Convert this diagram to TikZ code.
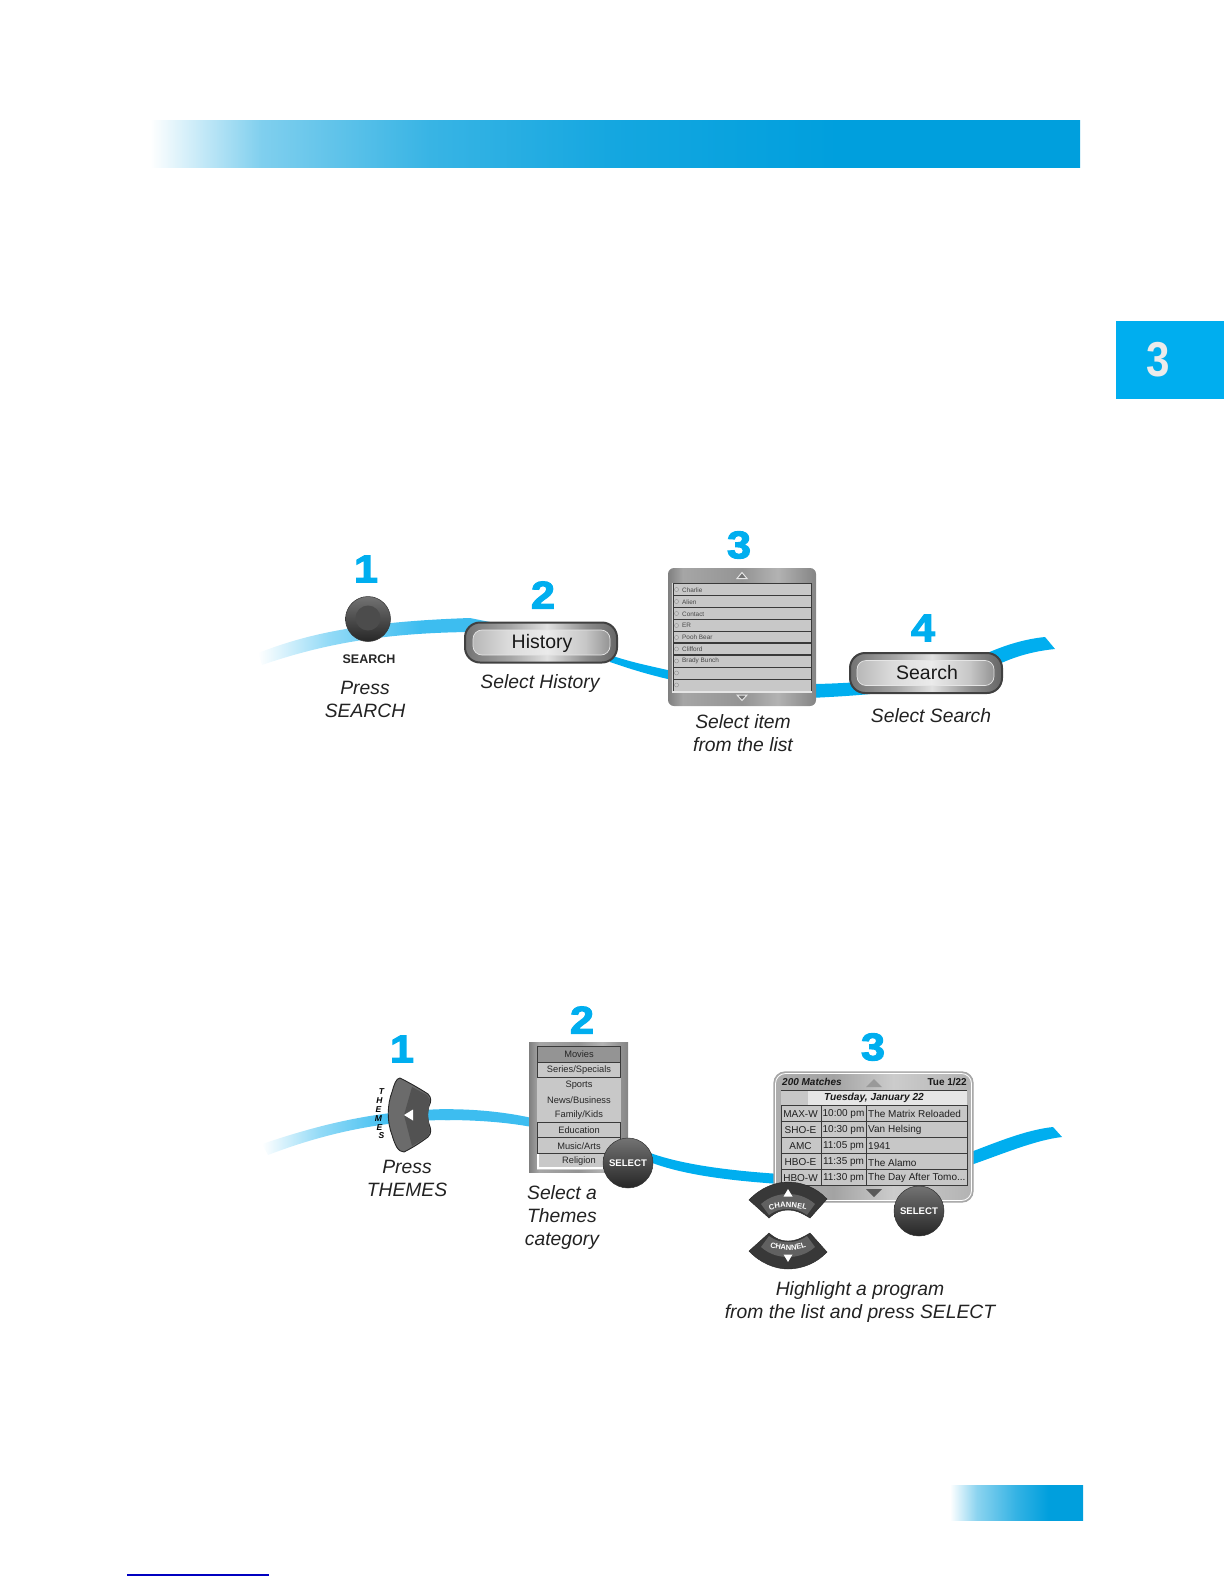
\documentclass[tikz,border=0pt]{standalone}
\usepackage{fontspec}
\setmainfont{Liberation Sans}
\newfontfamily\numfont[UprightFont=* Bold,FakeBold=3,FakeStretch=1.12]{Liberation Sans}
\usetikzlibrary{decorations.text}
\definecolor{stepblue}{HTML}{00AEEF}
\definecolor{ribbonblue}{HTML}{00AEEF}
\definecolor{ribbonmid}{HTML}{3DBDF0}
\definecolor{hdrblue}{HTML}{009FDD}
\definecolor{capk}{HTML}{222222}
\definecolor{rowgray}{HTML}{C8C8C8}
\definecolor{linegray}{HTML}{3A3A3A}
\definecolor{linkblue}{HTML}{0000C0}
\pgfdeclarehorizontalshading{hdrfade}{100bp}{color(0bp)=(white);color(25bp)=(white);color(31bp)=(hdrblue!50);color(40bp)=(hdrblue!78);color(50bp)=(hdrblue!92);color(62bp)=(hdrblue);color(100bp)=(hdrblue)}
\pgfdeclarehorizontalshading{footfade}{100bp}{color(0bp)=(white);color(25bp)=(white);color(35bp)=(hdrblue!45);color(50bp)=(hdrblue!80);color(62bp)=(hdrblue);color(100bp)=(hdrblue)}
\pgfdeclarehorizontalshading{ribfade}{100bp}{color(0bp)=(white);color(25bp)=(white);color(40bp)=(ribbonmid!55);color(60bp)=(ribbonmid);color(100bp)=(ribbonmid)}
\pgfdeclarehorizontalshading{metalring}{100bp}{color(0bp)=(black!55);color(25bp)=(black!55);color(40bp)=(black!35);color(52bp)=(black!12);color(65bp)=(black!45);color(75bp)=(black!60);color(100bp)=(black!60)}
\pgfdeclarehorizontalshading{metalface}{100bp}{color(0bp)=(black!28);color(25bp)=(black!28);color(38bp)=(black!14);color(52bp)=(black!8);color(66bp)=(black!22);color(75bp)=(black!42);color(100bp)=(black!42)}
\pgfdeclarehorizontalshading{panelmetal}{100bp}{color(0bp)=(black!50);color(25bp)=(black!50);color(30bp)=(black!35);color(50bp)=(black!42);color(62bp)=(black!30);color(75bp)=(black!48);color(100bp)=(black!48)}
\pgfdeclarehorizontalshading{panellight}{100bp}{color(0bp)=(black!32);color(25bp)=(black!32);color(40bp)=(black!36);color(55bp)=(black!20);color(75bp)=(black!30);color(100bp)=(black!30)}
\tikzset{
 caption/.style={font=\fontsize{19.3}{23}\selectfont\itshape,align=center,inner sep=0pt,text=capk},
 stepnum/.style={font=\numfont\fontsize{38.5}{39}\selectfont,text=stepblue,inner sep=0pt},
 ring/.style={rounded corners=15pt,shading=metalring,draw=black!75,line width=2pt,inner sep=0pt,minimum width=152pt,minimum height=40pt},
 face/.style={rounded corners=9pt,shading=metalface,draw=black!10,line width=.7pt,inner sep=0pt,minimum width=137pt,minimum height=25pt},
 btntext/.style={font=\fontsize{19.5}{22}\selectfont,text=black!90,inner sep=0pt},
 ball/.style={circle,top color=black!55,bottom color=black!85,draw=black!80,line width=.5pt,inner sep=0pt,font=\bfseries\fontsize{9.6}{10}\selectfont,text=white},
 listpanel/.style={rounded corners=6pt,shading=panelmetal,inner sep=0pt},
 rowbox/.style={fill=rowgray,draw=linegray,line width=.8pt},
 listtext/.style={font=\fontsize{6.4}{8}\selectfont,text=black!72,inner sep=0pt,anchor=west},
 cattext/.style={font=\fontsize{9.3}{10}\selectfont,text=black!85,inner sep=0pt},
 cell/.style={font=\fontsize{10}{11}\selectfont,text=black!88,inner sep=0pt},
 heavy/.style={font=\bfseries\fontsize{10}{11}\selectfont,text=black!90,inner sep=0pt},
 tinyletter/.style={font=\bfseries\itshape\fontsize{8.5}{9}\selectfont,text=black,inner sep=0pt},
}
\newcommand\chanfont{\bfseries\fontsize{7.6}{8}\selectfont\color{white}}
\newcommand\dayafter{The Day After Tomo...}
\begin{document}
\begin{tikzpicture}[x=1pt,y=-1pt]
\useasboundingbox (0,0) rectangle (1224,1584);
% page furniture
\shade[shading=hdrfade] (150,120.5) rectangle (1080,167);
\fill[stepblue] (1116,321) rectangle (1224,399);
\node[font=\bfseries\fontsize{49}{49}\selectfont,text=black!8,inner sep=0pt,xscale=.86] (tabnum) at (1158,360) {3};
\shade[shading=footfade] (950,1485) rectangle (1083,1520);
\draw[linkblue,line width=1.2pt] (127,1575) -- (269,1575);
% ribbons, top row
\shade[shading=ribfade] (258,653) .. controls (300,637) and (350,622) .. (470,618) -- (490,622) -- (490,634) -- (470,632) .. controls (380,633) and (320,645) .. (262,665) -- cycle;
\fill[ribbonblue] (610,655) .. controls (630,662) and (650,666) .. (672,671) -- (672,680) .. controls (650,675) and (630,669) .. (610,662) -- cycle;
\fill[ribbonblue] (810,684) .. controls (825,684) and (845,683) .. (860,682) -- (870,694) .. controls (850,696) and (830,697) .. (810,698) -- cycle;
\fill[ribbonblue] (985,654) .. controls (1005,645) and (1025,639) .. (1045,637) -- (1055,649) .. controls (1035,651) and (1015,656) .. (995,666) -- cycle;
% ribbons, bottom row
\shade[shading=ribfade] (262,1144) .. controls (310,1128) and (370,1110) .. (450,1109) -- (450,1120) .. controls (380,1120) and (320,1135) .. (268,1155) -- cycle;
\fill[ribbonmid] (445,1109.2) .. controls (475,1109) and (505,1112) .. (532,1118) -- (532,1127) .. controls (505,1122) and (475,1120) .. (445,1120) -- cycle;
\fill[ribbonblue] (645,1151) .. controls (675,1163) and (720,1170) .. (780,1174) -- (780,1184) .. controls (720,1180) and (675,1173) .. (645,1160) -- cycle;
\fill[ribbonblue] (968,1153) .. controls (995,1143) and (1025,1130) .. (1053,1127) -- (1062,1137) .. controls (1035,1140) and (1000,1155) .. (968,1166) -- cycle;
% step 1 top
\node[stepnum] (a1) at (366,569) {1};
\node[ball,minimum size=45pt] (searchbtn) at (368,619) {};
\node[circle,fill=black!70,inner sep=0pt,minimum size=25pt] (searchdimple) at (368,618) {};
\node[font=\bfseries\fontsize{12.5}{13}\selectfont,text=black!85,inner sep=0pt] (searchlbl) at (369,659) {SEARCH};
\node[caption] (cap1) at (365,699) {Press\\SEARCH};
% step 2 top
\node[stepnum] (a2) at (543,595) {2};
\node[ring] (historyring) at (541,642.5) {};
\node[face] (historyface) at (541.5,642.5) {};
\node[btntext] (history) at (542,643.5) {History};
\node[caption] (cap2) at (540,684) {Select History};
% step 3 top
\node[stepnum] (a3) at (739,545) {3};
\node[listpanel,minimum width=148pt,minimum height=138pt] (listpanel) at (742,637) {};
\fill[white!85!black] (672,583) rectangle (812,692.5);
\foreach \r [count=\i from 0] in {583.5,595.5,607.5,619.5,631.5,643,655,667,679}{
  \draw[rowbox] (673,\r) rectangle (811,\r+12);
  \draw[black!45,line width=.4pt,fill=white!80!black] (676.5,\r+6) circle (2pt);
}
\draw[linegray,line width=1.8pt] (673,643) -- (811,643);
\draw[linegray,line width=1.8pt] (673,655) -- (811,655);
\draw[linegray,line width=1.8pt] (680,583.5) -- (805,583.5);
\fill[white!90!black] (672,691) rectangle (812,692.5);
\node[listtext] (l1) at (682,590) {Charlie};
\node[listtext] (l2) at (682,602) {Alien};
\node[listtext] (l3) at (682,614) {Contact};
\node[listtext] (l4) at (682,625.5) {ER};
\node[listtext] (l5) at (682,637.5) {Pooh Bear};
\node[listtext] (l6) at (682,649) {Clifford};
\node[listtext] (l7) at (682,661) {Brady Bunch};
\draw[white!90!black,line width=1pt,fill=black!55] (737,578.5) -- (742,572.5) -- (747,578.5) -- cycle;
\draw[white!90!black,line width=1pt,fill=black!55] (737,695) -- (747,695) -- (742,700.5) -- cycle;
\node[caption] (cap3) at (743,733.5) {Select item\\from the list};
% step 4 top
\node[stepnum] (a4) at (923,628) {4};
\node[ring] (searchring) at (926,673) {};
\node[face] (searchface) at (925.5,673) {};
\node[btntext] (searchtext) at (927,672.5) {Search};
\node[caption] (cap4) at (931,716) {Select Search};
% step 1 bottom
\node[stepnum] (b1) at (402,1049) {1};
\draw[fill=black!58,draw=black!85,line width=.9pt] (400,1078) .. controls (410,1083) and (422,1090) .. (428,1094) .. controls (432,1098) and (431,1102) .. (429,1106) .. controls (427,1111) and (427,1118) .. (429,1124) .. controls (431,1129) and (432,1133) .. (428,1137) .. controls (420,1143) and (412,1148) .. (404,1152) .. controls (398,1152) and (395,1145) .. (392,1135) .. controls (387,1122) and (387,1105) .. (392,1092) .. controls (394,1085) and (396,1078) .. (400,1078) -- cycle;
\fill[black!68] (412,1087) -- (427,1095) -- (430,1100) -- (428,1115) -- (430,1132) -- (427,1137) -- (412,1146) -- (404,1115) -- cycle;
\fill[white] (404,1115) -- (413,1109.5) -- (413,1120.5) -- cycle;
\foreach \ch/\px/\py [count=\i] in {T/381.5/1092,H/379.5/1101,E/378.5/1110,M/378.5/1118.5,E/379.5/1128,S/381.5/1136}{
  \node[tinyletter] (themes\i) at (\px,\py) {\ch};
}
\node[caption] (capb1) at (407,1178) {Press\\THEMES};
% step 2 bottom
\node[stepnum] (b2) at (582,1020) {2};
\shade[shading=panelmetal] (529,1042) rectangle (628,1172);
\fill[rowgray] (537,1046) rectangle (621,1169.5);
\draw[rowbox,fill=black!42] (537.5,1046.5) rectangle (620.5,1062);
\draw[rowbox] (537.5,1062) rectangle (620.5,1077);
\draw[rowbox] (537.5,1122) rectangle (620.5,1137);
\draw[rowbox] (537.5,1137) rectangle (620.5,1153);
\draw[white,line width=1.2pt] (538,1153.5) -- (538,1168) -- (620,1168);
\foreach \t/\ty [count=\i] in {Movies/1054,Series\slash Specials/1070,Sports/1085,News\slash Business/1100,Family\slash Kids/1115,Education/1130,Music\slash Arts/1146,Religion/1161}{
  \node[cattext] (cat\i) at (579,\ty) {\t};
}
\node[ball,minimum size=50pt] (select1) at (628,1163) {SELECT};
\node[caption] (capb2) at (562,1217.5) {Select a\\Themes\\category};
% step 3 bottom
\node[stepnum] (b3) at (873,1047) {3};
\node[draw=black!35,line width=1.3pt,rounded corners=11pt,shading=panellight,inner sep=0pt,minimum width=199pt,minimum height=130pt] (respanel) at (873.5,1137) {};
\draw[white,line width=.8pt,rounded corners=10pt] (775.5,1073.5) rectangle (971.5,1200.5);
\fill[black!10] (781,1090) rectangle (967,1105);
\fill[black!22] (781,1090) rectangle (808,1105);
\draw[linegray,line width=1pt] (781,1090) -- (967,1090);
\foreach \r in {1105,1121,1137,1153,1169}{
  \draw[rowbox,fill=black!22,line width=.7pt] (781,\r) rectangle (967,\r+16);
}
\draw[linegray,line width=.6pt] (821,1105) -- (821,1185);
\draw[linegray,line width=.6pt] (866,1105) -- (866,1185);
\node[font=\bfseries\itshape\fontsize{10}{11}\selectfont,text=black!90,inner sep=0pt,anchor=west] (matches) at (782,1082) {200 Matches};
\node[heavy,anchor=east] (tue) at (967,1082) {Tue 1/22};
\fill[black!40] (866,1087) -- (874,1079) -- (882,1087) -- cycle;
\node[font=\bfseries\itshape\fontsize{10.2}{11}\selectfont,text=black!90,inner sep=0pt] (tuesday) at (874,1098) {Tuesday, January 22};
\foreach \a/\b/\c/\ty [count=\i] in {MAX-W/10:00 pm/The Matrix Reloaded/1114,SHO-E/10:30 pm/Van Helsing/1130,AMC/11:05 pm/1941/1146.5,HBO-E/11:35 pm/The Alamo/1162.5,HBO-W/11:30 pm/\dayafter/1178}{
  \node[cell] (ch\i) at (800.5,\ty) {\a};
  \node[cell] (tm\i) at (843.5,\ty) {\b};
  \node[cell,anchor=west] (ti\i) at (868,\ty) {\c};
}
\fill[black!65] (866,1189) -- (882,1189) -- (874,1197) -- cycle;
\node[ball,minimum size=50pt] (select2) at (919,1211) {SELECT};
% channel up
\draw[fill=black!78,draw=black!85,line width=.4pt] (749,1200) .. controls (760,1188) and (775,1182) .. (788,1182) .. controls (802,1182) and (817,1188) .. (827,1199) -- (810,1218) .. controls (800,1212) and (795,1210) .. (788,1210) .. controls (781,1210) and (776,1212) .. (769,1218) -- cycle;
\fill[black!62] (761,1204) .. controls (770,1196) and (780,1194) .. (788,1194) .. controls (796,1194) and (806,1196) .. (815,1204) -- (807,1215) .. controls (800,1210) and (795,1209) .. (788,1209) .. controls (781,1209) and (776,1210) .. (769,1215) -- cycle;
\fill[white] (788,1189) -- (792.5,1196.5) -- (783.5,1196.5) -- cycle;
\path[decorate,decoration={text along path,text={|\chanfont|CHANNEL},text align={center}}] (765,1212) .. controls (778,1206) and (798,1206) .. (811,1212);
% channel down
\draw[fill=black!78,draw=black!85,line width=.4pt] (749,1251) .. controls (760,1263) and (775,1269) .. (788,1269) .. controls (802,1269) and (817,1263) .. (827,1252) -- (810,1233) .. controls (800,1239) and (795,1241) .. (788,1241) .. controls (781,1241) and (776,1239) .. (769,1233) -- cycle;
\fill[black!62] (761,1247) .. controls (770,1255) and (780,1257) .. (788,1257) .. controls (796,1257) and (806,1255) .. (815,1247) -- (807,1236) .. controls (800,1241) and (795,1242) .. (788,1242) .. controls (781,1242) and (776,1241) .. (769,1236) -- cycle;
\fill[white] (788,1262) -- (792.5,1254.5) -- (783.5,1254.5) -- cycle;
\path[decorate,decoration={text along path,text={|\chanfont|CHANNEL},text align={center}}] (765,1245) .. controls (778,1252) and (798,1252) .. (811,1245);
\node[caption] (capb3) at (860,1302) {Highlight a program\\from the list and press SELECT};
\end{tikzpicture}
\end{document}
